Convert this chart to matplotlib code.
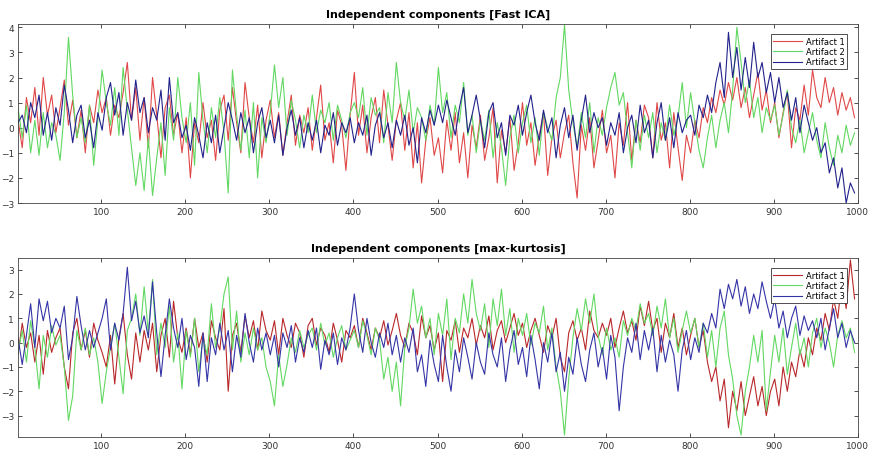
import numpy as np
import matplotlib
matplotlib.use("Agg")
import matplotlib.pyplot as plt

# sample index (every 5th sample of 1..1000)
samples = np.arange(1, 1001, 5)

# ---- Fast ICA components ----
ica_art1 = [
    0.3, -0.8, 1.2, 0.2, 1.6, -0.3, 2.0, 0.5, 1.3, -0.2,
    0.8, 1.9, 0.1, 1.1, -0.4, 0.7, -1.0, 0.9, 0.2, 1.5,
    0.6, 1.2, -0.3, 0.9, 0.4, 1.4, 2.6, 0.3, 1.6, -0.5,
    1.2, -0.8, 2.0, 0.5, -1.2, 0.8, 1.3, -0.3, 0.6, -1.0,
    0.4, -2.0, 0.2, -0.6, 1.0, -0.4, 0.3, -1.3, 0.7, 1.3,
    -0.5, 1.6, 0.2, -1.0, 1.8, 0.4, -0.6, 0.9, -1.2, 0.3,
    1.1, -0.4, 0.6, -1.1, 0.2, 1.3, -0.7, 0.5, -0.2, 0.8,
    -0.9, 0.4, 1.7, -0.5, 0.2, -1.4, 0.7, 0.1, -1.7, 0.5,
    2.2, -0.3, 0.9, -1.0, 0.4, 1.2, -0.6, 1.5, 0.1, -1.3,
    0.3, 1.0, -0.9, 0.6, -1.6, 0.2, -2.2, -0.5, 0.4, -1.1,
    -0.4, -1.8, 0.3, -0.9, 0.6, -1.4, -0.2, -2.0, 0.1, -0.8,
    0.5, -1.3, -0.4, 0.8, -2.2, -0.1, -1.0, 0.4, -1.7, -0.6,
    1.0, -0.7, 0.2, -1.5, -0.3, 0.6, -1.9, -0.4, 0.3, -1.2,
    -0.2, 0.5, -1.4, -2.8, 0.1, -0.9, 0.4, -1.6, -0.5, 0.7,
    -1.0, -0.3, -2.0, 0.2, -0.7, 1.0, -1.3, 0.3, -0.6, 0.9,
    0.4, -1.2, 1.0, -0.5, 0.2, -1.6, 0.6, -0.8, -2.1, -0.3,
    -1.0, 0.3, -0.4, 0.8, 0.2, 1.2, 0.6, 1.5, 0.9, 1.8,
    1.1, 2.0, 0.8, 1.6, 0.4, 1.3, 2.2, 0.7, 1.5, 0.2,
    1.0, -0.4, 0.6, 1.4, -0.8, 0.8, 0.3, 1.7, 0.5, 2.3,
    1.2, 0.8, 2.0, 1.0, 1.6, 0.5, 1.4, 0.7, 1.2, 0.4,
]
ica_art2 = [
    0.8, -0.4, 0.9, -1.0, 0.3, -1.1, 0.6, -0.8, 0.2, -0.3,
    -1.3, 0.6, 3.6, 1.3, -0.4, 0.4, -0.6, 0.9, -1.5, 0.3,
    2.3, 1.0, 0.1, 1.6, -0.3, 2.4, 0.7, -0.8, -2.3, -1.0,
    -2.5, -0.4, -2.7, -1.2, 0.2, -1.9, 0.8, -0.5, 2.0, 0.4,
    -0.6, 1.0, -1.5, 2.2, 0.3, -1.0, 0.8, -0.4, 1.2, -0.2,
    -2.6, 2.3, 0.5, -0.9, 0.7, -1.2, 1.0, -2.0, 0.4, -0.6,
    0.6, 2.5, 0.8, 2.0, -0.3, 1.1, 0.3, -0.8, 0.5, -0.2,
    1.3, -0.2, 0.7, 0.2, 1.0, -0.5, 0.9, 0.3, -0.4, 0.6,
    1.0, 0.4, 1.6, -0.3, 1.2, 0.5, 0.8, -0.6, 1.4, 0.2,
    2.6, 1.0, 0.3, 1.5, -0.2, 0.8, 0.4, -0.5, 0.9, 0.1,
    2.4, 0.6, 1.4, -0.4, 0.9, 0.2, 1.8, -0.3, 0.5, -1.0,
    0.3, -0.5, 0.7, -1.2, 0.2, -0.8, -2.3, -0.4, 0.5, -1.0,
    0.2, 0.9, -0.6, 0.4, -1.1, 0.6, 0.0, -0.5, 1.2, 2.0,
    4.1, 1.5, 0.2, -0.8, 0.6, -0.4, 1.0, -1.0, 0.4, -0.3,
    0.8, 1.6, 2.2, 0.9, 1.4, -0.2, -1.6, 0.3, -0.9, 0.5,
    -0.4, 0.6, -1.0, 0.2, -0.5, 0.9, -0.3, 0.4, 1.8, 0.0,
    1.4, 0.2, -0.9, -1.6, -0.4, 0.5, -0.8, 0.3, 1.0, -0.2,
    1.5, 4.0, 2.6, 1.0, 1.9, 0.4, 1.2, -0.2, 0.8, 0.3,
    0.9, -0.3, 0.5, 1.5, 0.0, -0.6, 0.3, -1.0, -0.2, 0.6,
    -0.5, -1.2, 0.2, -0.8, -1.5, -0.3, -1.0, 0.1, -0.7, -0.2,
]
ica_art3 = [
    0.2, 0.5, -0.2, 1.0, 0.4, 1.3, -0.3, 0.6, -0.5, 0.8,
    0.1, 1.7, 0.7, -0.6, 0.5, 0.9, -0.4, 0.3, -0.8, 0.6,
    -0.1, 1.2, 1.8, 0.5, 1.4, -0.3, 1.0, 0.3, 1.9, 0.6,
    1.2, -0.2, 0.8, 0.3, 1.5, -0.5, 2.0, 0.2, 0.6, -0.4,
    0.1, -0.9, 0.4, -0.3, -1.2, 0.2, -0.6, 0.5, -1.0, 0.0,
    1.0, 0.3, -0.5, 0.6, -0.2, 0.4, -1.0, 0.2, 0.8, -0.4,
    0.3, -0.6, 0.5, -1.1, 0.0, 0.7, -0.3, 0.4, -0.8, 0.2,
    -0.5, 0.3, -1.0, 0.1, -0.3, 0.6, -0.7, 0.2, -0.2, 0.4,
    -0.6, 0.2, -0.3, 0.5, -1.1, 0.1, 0.6, -0.4, 0.2, -0.8,
    0.3, -0.3, 0.5, -0.7, 0.0, -1.4, 0.4, -0.2, 0.7, 0.1,
    0.9, 0.2, 1.1, 0.4, -0.3, 0.8, 1.6, -0.2, 0.5, 1.3,
    0.3, -0.8, 0.6, 1.0, -0.4, 0.2, -1.1, 0.5, 0.1, 0.9,
    -0.3, 0.6, 1.3, 0.2, -0.5, 0.7, -0.2, 0.4, -1.2, 0.1,
    0.8, -0.4, 0.5, -0.9, 0.3, 1.3, -0.2, 0.6, 0.0, 0.4,
    -0.7, 0.2, -0.3, 0.6, -1.0, 0.0, 0.5, -0.6, 0.9, -0.2,
    0.3, -1.2, 0.2, 1.0, -0.5, 0.4, -0.8, 0.6, -0.2, 0.3,
    0.5, -0.3, 0.9, 0.4, 1.3, 0.6, 1.8, 2.6, 1.2, 3.8,
    2.0, 3.2, 1.5, 2.8, 1.6, 3.4, 2.0, 2.6, 1.4, 2.2,
    1.0, 2.0, 0.8, 1.4, 0.3, 1.2, -0.2, 0.9, 0.2, -0.5,
    0.0, -1.0, -0.6, -1.8, -1.2, -2.4, -1.6, -3.0, -2.2, -2.6,
]

# ---- max-kurtosis components ----
mk_art1 = [
    -0.5, 0.8, -0.2, 0.4, -0.8, 0.3, -1.3, 0.5, -0.4, 0.2,
    0.6, -1.0, -1.9, 0.4, 1.0, -0.3, 0.5, -0.6, 0.8, 0.1,
    -0.4, -1.0, 0.3, -1.7, 0.2, 1.2, -0.5, -1.5, 0.4, -0.8,
    0.5, -0.3, 0.8, -1.2, 0.3, 1.0, -0.6, 1.7, 0.2, -0.4,
    0.6, -0.5, 1.0, -0.2, 0.4, -0.8, 0.9, 0.2, -0.3, 1.4,
    -2.0, 0.3, 0.8, -0.4, 1.1, 0.2, 0.9, -0.3, 1.3, 0.5,
    0.1, 0.9, -0.5, 1.0, 0.3, -0.2, 0.8, 0.4, -0.6, 0.7,
    1.0, -0.1, 0.6, 0.3, -0.4, 0.8, 0.1, -0.8, 0.5, 0.2,
    0.7, -0.2, 1.0, 0.4, -0.3, 0.6, 0.2, 0.9, -0.1, 0.5,
    1.2, 0.3, -0.2, 0.8, 0.4, -0.5, 1.1, 0.2, 0.7, -0.3,
    0.4, -1.6, 0.5, 0.1, 0.9, -0.4, 0.6, 0.2, 1.0, -0.1,
    0.7, 0.2, 1.1, -0.3, 0.5, 0.9, 0.0, 0.6, 1.2, 0.3,
    0.8, -0.2, 0.5, 1.0, 0.3, -0.4, 0.7, 0.2, 1.0, -0.6,
    -1.2, 0.4, 0.9, 0.1, 0.6, -0.3, 1.3, 0.5, 0.2, 0.8,
    0.3, 1.0, -0.2, 0.6, 1.3, 0.4, 0.9, 0.1, 1.5, 0.7,
    1.7, 0.5, 1.0, -0.4, 0.8, 0.2, 1.2, -0.2, 0.6, -0.5,
    0.3, 1.0, -0.2, 0.5, -0.8, -1.6, -1.0, -2.4, -1.5, -3.5,
    -2.0, -2.8, -1.6, -3.0, -2.2, -1.4, -2.6, -1.8, -3.0, -2.0,
    -1.5, -2.6, -1.0, -2.0, -0.8, -1.4, -0.3, -1.0, 0.2, -0.5,
    0.6, 0.1, 1.2, 0.5, 1.8, 1.0, 2.6, 1.4, 3.4, 1.8,
]
mk_art2 = [
    -0.4, 0.5, -0.8, 0.9, -0.2, -1.9, 0.3, -0.6, 0.7, -0.1,
    0.3, -1.0, -3.2, -2.2, 0.5, -0.3, 0.6, -0.5, 0.2, -0.8,
    -2.5, -1.2, -0.2, 0.8, -0.6, -2.1, 0.5, 1.0, 2.0, 0.3,
    2.3, 0.4, 2.6, -0.5, 0.8, -0.2, 1.5, -0.8, 0.4, -1.9,
    0.5, -0.6, 1.0, -1.2, 0.2, -0.5, 1.6, -0.2, 0.6, 2.0,
    2.7, -0.3, 1.3, -0.8, 0.4, -0.5, 0.6, -0.3, 0.2, -1.0,
    -1.6, -2.6, -0.5, -1.8, -0.9, 0.2, -0.4, 0.5, -0.2, 0.3,
    0.6, -0.3, 0.8, -0.1, 0.4, -0.6, 0.2, 0.7, -0.3, 0.1,
    0.5, -0.2, 0.9, 0.3, -0.5, 0.6, 0.1, -1.5, -0.6, -2.0,
    -0.8, -2.6, -0.2, 0.6, 2.2, 0.8, 1.5, 0.2, 1.0, -0.5,
    1.2, 0.3, 1.8, -0.7, 1.0, 0.4, 2.0, 0.8, 2.6, 1.2,
    0.5, 1.6, -0.2, 1.8, 0.7, 2.2, 0.3, 1.4, -0.4, 1.0,
    0.3, 1.2, -0.1, 0.8, 0.4, 1.5, -0.3, 0.6, -1.0, -2.0,
    -3.8, -1.5, 0.2, 1.4, 0.5, 1.8, 0.8, 2.0, 0.3, -0.5,
    0.6, -0.3, 0.2, -0.6, 0.9, 0.3, 1.0, 0.5, 1.6, 0.8,
    1.2, 0.3, 1.5, 0.6, 1.8, 0.2, 1.0, -0.4, 0.5, 1.3,
    0.4, 1.0, -0.2, 0.8, -0.6, 0.5, -1.0, 0.6, 1.3, -0.5,
    -1.5, -3.0, -3.8, -2.0, -1.0, 0.3, -0.8, 0.5, -2.8, -1.2,
    0.3, -0.8, 0.6, -1.3, -0.2, 0.8, -0.5, 0.2, -1.0, 0.4,
    1.0, -0.2, 0.6, 0.0, -1.0, 0.3, 0.9, 0.2, 0.6, -0.4,
]
mk_art3 = [
    0.2, -0.9, 0.3, 1.6, -0.2, 1.8, 0.9, 1.7, 0.4, 1.0,
    0.6, 1.5, -0.7, 0.2, 1.9, 0.7, -0.3, 0.5, -0.2, 0.4,
    1.0, 1.8, -0.3, 0.8, 0.1, 1.2, 3.1, 0.9, 1.7, 0.4,
    1.1, 0.2, 2.5, 0.4, -1.4, 0.3, 1.8, 0.6, -0.2, 1.0,
    -0.7, 0.3, -0.2, -1.8, 0.4, -1.6, 0.2, -0.5, 0.8, -0.3,
    0.5, -1.2, 0.3, -0.6, 1.2, 0.0, -0.8, 0.6, -0.3, 0.4,
    -0.5, 0.3, -1.0, 0.4, -0.2, 0.7, -0.8, 0.2, -0.4, 0.5,
    -0.2, 0.6, -1.1, 0.1, -0.5, 0.4, -0.9, 0.2, -0.3, 0.6,
    2.0, 0.5, -0.4, 1.0, 0.0, -0.6, 0.4, -0.2, 0.8, -0.5,
    0.3, -0.8, 0.2, -0.4, 0.6, -1.2, -0.5, -1.8, 0.1, -0.9,
    -1.6, 0.3, -1.0, -2.0, -0.3, -1.2, 0.2, -0.6, -1.5, 0.0,
    -0.8, -1.3, 0.4, -0.5, -1.0, 0.2, -1.6, -0.3, 0.5, -0.9,
    -0.2, -1.4, 0.3, -0.7, -1.9, 0.0, -0.8, 0.4, -1.2, -0.4,
    -2.0, -0.6, -1.3, 0.2, -0.9, -1.6, -0.3, 0.4, -1.0, -0.2,
    -1.5, 0.3, -0.6, -2.8, -1.0, 0.2, -0.4, 0.8, -0.7, 0.5,
    -0.3, 0.6, -1.2, 0.3, -0.8, 0.1, -0.5, -2.0, -0.3, 0.5,
    -0.7, 0.2, -0.4, 0.8, 0.4, 1.2, 0.6, 2.2, 1.4, 2.4,
    1.8, 2.6, 1.5, 2.3, 1.2, 2.0, 1.4, 2.5, 1.7, 1.0,
    1.8, 0.6, 1.3, 0.2, 1.0, 1.5, 0.3, 1.1, 0.5, 0.9,
    0.2, 1.0, -0.3, 0.6, 1.4, 0.2, 0.8, -0.2, 0.5, 0.0,
]

labels = ["Artifact 1", "Artifact 2", "Artifact 3"]
titles = ["Independent components [Fast ICA]", "Independent components [max-kurtosis]"]
xticks = [100, 200, 300, 400, 500, 600, 700, 800, 900, 1000]
yticks_top = [-3, -2, -1, 0, 1, 2, 3, 4]
yticks_bot = [-3, -2, -1, 0, 1, 2, 3]

colors_top = ["#e04848", "#62d862", "#22228c"]
colors_bot = ["#b8282a", "#62d862", "#3434a6"]

fig = plt.figure(figsize=(8.71, 4.56), dpi=100)
ax1 = fig.add_axes([0.0207, 0.5526, 0.9643, 0.3925])
ax2 = fig.add_axes([0.0207, 0.0395, 0.9643, 0.3925])

panels = [
    (ax1, [ica_art1, ica_art2, ica_art3], colors_top, titles[0], yticks_top, (-3.0, 4.13)),
    (ax2, [mk_art1, mk_art2, mk_art3], colors_bot, titles[1], yticks_bot, (-3.88, 3.48)),
]
for ax, series, cols, title, yt, yl in panels:
    for s, c, lab in zip(series, cols, labels):
        ax.plot(samples, s, color=c, lw=0.8, label=lab)
    ax.set_xlim(1, 1000)
    ax.set_ylim(*yl)
    ax.set_xticks(xticks)
    ax.set_yticks(yt)
    ax.tick_params(direction="in", length=3, width=0.6, labelsize=6.5,
                   colors="#333333", top=True, right=True, pad=3)
    for sp in ax.spines.values():
        sp.set_color("#444444")
        sp.set_linewidth(0.6)
    ax.set_title(title, fontsize=8, fontweight="bold", pad=5)
    leg = ax.legend(loc="upper right", bbox_to_anchor=(0.992, 0.965), fontsize=6,
                    fancybox=False, framealpha=1, edgecolor="#333333",
                    handlelength=3.4, borderpad=0.3, labelspacing=0.15, handletextpad=0.5)
    leg.get_frame().set_linewidth(0.6)

fig.savefig("out.png", dpi=100)
